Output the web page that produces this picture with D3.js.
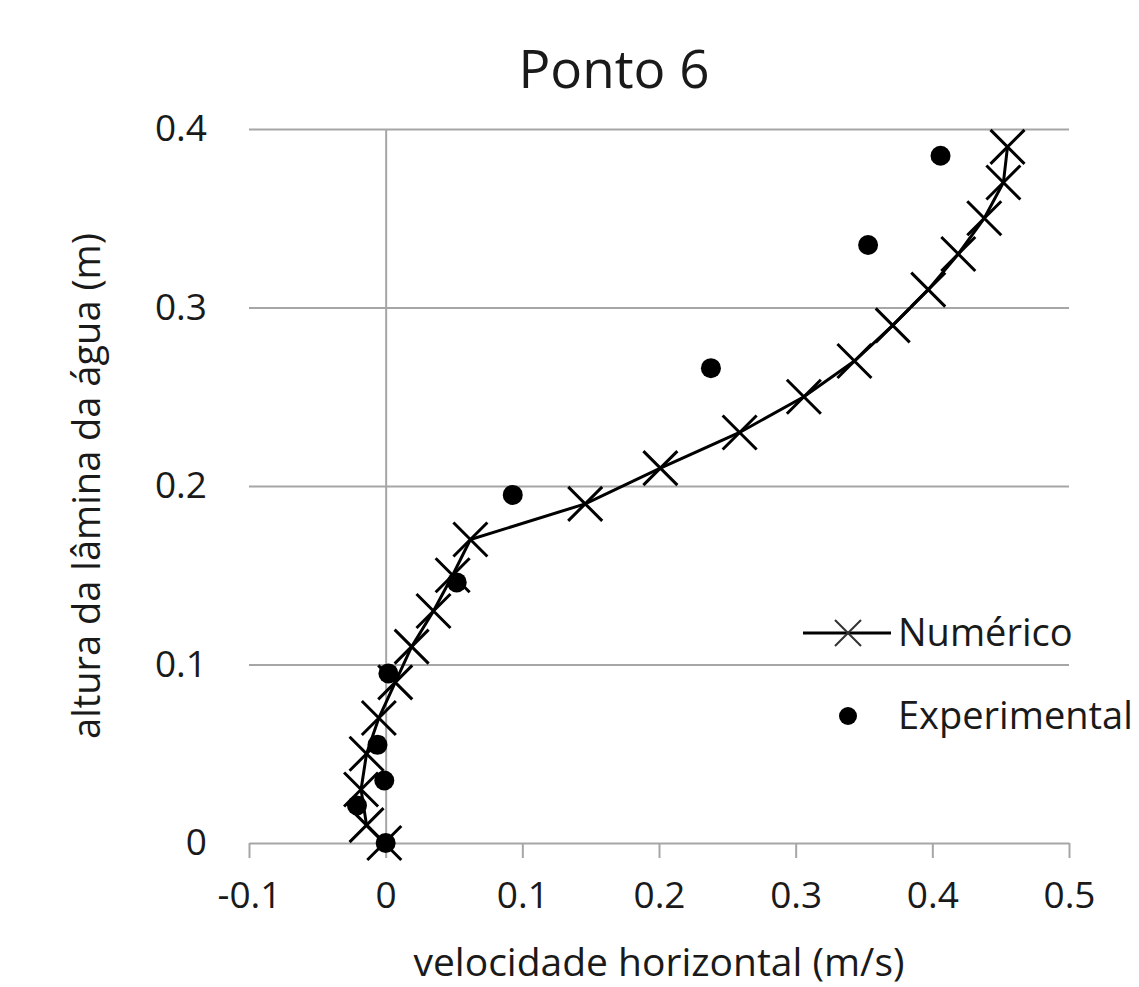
<!DOCTYPE html>
<html>
<head>
<meta charset="utf-8">
<script src="https://cdn.jsdelivr.net/npm/d3@7"></script>
<style>
  body { margin: 0; background: #fff; }
  text { font-family: "Open Sans", "Noto Sans", sans-serif; fill: #1a1a1a; }
</style>
</head>
<body>
<script>
// numerical profile (x = velocity, y = height)
const numHeight = [0, 0.01, 0.03, 0.05, 0.07, 0.09, 0.11, 0.13, 0.15, 0.17, 0.19,
    0.21, 0.23, 0.25, 0.27, 0.29, 0.31, 0.33, 0.35, 0.37, 0.39];
const numVelocity = [-0.001, -0.014, -0.018, -0.014, -0.005, 0.007, 0.019, 0.035, 0.049, 0.062, 0.146,
    0.201, 0.259, 0.306, 0.343, 0.371, 0.397, 0.419, 0.438, 0.452, 0.455];

// experimental points
const expHeight = [0, 0.021, 0.035, 0.055, 0.095, 0.146, 0.195, 0.266, 0.335, 0.385];
const expVelocity = [0, -0.021, -0.001, -0.006, 0.002, 0.052, 0.093, 0.238, 0.353, 0.406];

const xTicks = [-0.1, 0, 0.1, 0.2, 0.3, 0.4, 0.5];
const yTicks = [0, 0.1, 0.2, 0.3, 0.4];

const numData = numHeight.map((h, i) => ({h: h, v: numVelocity[i]}));
const expData = expHeight.map((h, i) => ({h: h, v: expVelocity[i]}));

const margin = {top: 129, right: 70, bottom: 144, left: 249};
const W = 1139, H = 987;
const width = W - margin.left - margin.right,
    height = H - margin.top - margin.bottom;

const svg = d3.select('body').append('svg')
    .attr('width', W)
    .attr('height', H);

const g = svg.append('g')
    .attr('transform', `translate(${margin.left}, ${margin.top})`);

const x = d3.scaleLinear().domain([-0.1, 0.5]).range([0, width]);
const y = d3.scaleLinear().domain([0, 0.4]).range([height, 0]);

const grey = '#a6a6a6';
// excel style labels: plain hyphen, "0" without decimals
const fmt = d => d === 0 ? '0' : d3.format('.1f')(d).replace('\u2212', '-');

// horizontal gridlines + y labels
const yAxisGroup = g.append('g')
    .call(d3.axisLeft(y).tickValues(yTicks.filter(d => d > 0)).tickSize(-width).tickPadding(42)
        .tickFormat(fmt));
yAxisGroup.select('.domain').remove();
yAxisGroup.selectAll('line').attr('stroke', grey).attr('stroke-width', 2);
yAxisGroup.selectAll('text').attr('font-size', 37).attr('fill', '#1a1a1a');

// zero label on y
g.append('text')
    .attr('x', -42).attr('y', y(0)).attr('dy', '0.32em')
    .attr('text-anchor', 'end').attr('font-size', 37)
    .text(fmt(yTicks[0]));

// vertical axis line at x = 0
const yLine = g.append('g')
    .attr('transform', `translate(${x(0)}, 0)`)
    .call(d3.axisLeft(y).tickValues([]).tickSizeOuter(0));
yLine.select('.domain').attr('stroke', grey).attr('stroke-width', 2);

// x axis
const xAxisGroup = g.append('g')
    .attr('transform', `translate(0, ${height})`)
    .call(d3.axisBottom(x).tickValues(xTicks).tickSize(15).tickSizeOuter(0).tickPadding(24)
        .tickFormat(fmt));
xAxisGroup.select('.domain').attr('stroke', grey).attr('stroke-width', 2);
xAxisGroup.selectAll('line').attr('stroke', grey).attr('stroke-width', 2);
xAxisGroup.selectAll('text').attr('font-size', 37).attr('fill', '#1a1a1a');

// numerical line
const line = d3.line().x(d => x(d.v)).y(d => y(d.h));
g.append('path')
    .datum(numData)
    .attr('fill', 'none')
    .attr('stroke', '#000')
    .attr('stroke-width', 3)
    .attr('d', line);

const crossPath = s => `M${-s},${-s}L${s},${s}M${-s},${s}L${s},${-s}`;

g.append('g')
    .selectAll('path')
    .data(numData)
    .enter()
    .append('path')
    .attr('transform', d => `translate(${x(d.v)}, ${y(d.h)})`)
    .attr('d', crossPath(17))
    .attr('stroke', '#000')
    .attr('stroke-width', 3)
    .attr('fill', 'none');

// experimental dots
g.append('g')
    .selectAll('circle')
    .data(expData)
    .enter()
    .append('circle')
    .attr('cx', d => x(d.v))
    .attr('cy', d => y(d.h))
    .attr('r', 10)
    .attr('fill', '#000');

// legend
const legend = svg.append('g');
legend.append('line')
    .attr('x1', 803).attr('x2', 891).attr('y1', 633).attr('y2', 633)
    .attr('stroke', '#000').attr('stroke-width', 3);
legend.append('path')
    .attr('transform', 'translate(848, 633)')
    .attr('d', crossPath(13))
    .attr('stroke', '#333').attr('stroke-width', 2).attr('fill', 'none');
legend.append('text')
    .attr('x', 898).attr('y', 633).attr('dy', '0.35em')
    .attr('font-size', 38)
    .text('Numérico');
legend.append('circle')
    .attr('cx', 848).attr('cy', 716).attr('r', 9).attr('fill', '#000');
legend.append('text')
    .attr('x', 898).attr('y', 716).attr('dy', '0.35em')
    .attr('font-size', 38)
    .text('Experimental');

// titles
svg.append('text')
    .attr('x', 614).attr('y', 88)
    .attr('text-anchor', 'middle')
    .attr('font-size', 53)
    .text('Ponto 6');

svg.append('text')
    .attr('x', 659).attr('y', 976)
    .attr('text-anchor', 'middle')
    .attr('font-size', 39)
    .text('velocidade horizontal (m/s)');

svg.append('text')
    .attr('transform', 'translate(100, 486) rotate(-90)')
    .attr('text-anchor', 'middle')
    .attr('font-size', 38)
    .text('altura da lâmina da água (m)');
</script>
</body>
</html>
